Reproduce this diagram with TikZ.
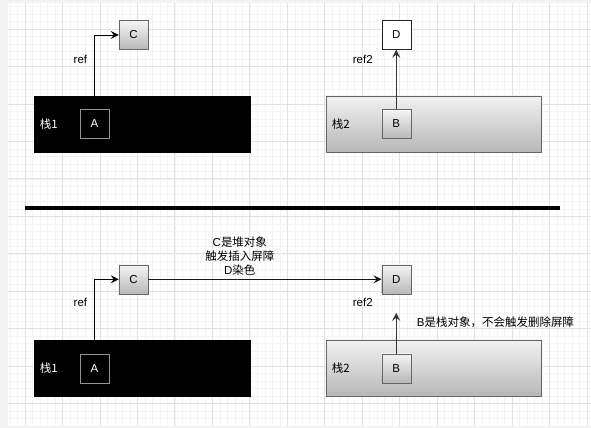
\documentclass[tikz,border=0pt]{standalone}
\usepackage{fontspec}
\setmainfont{Liberation Sans}
\newfontfamily\cjk{Noto Sans CJK SC}
\usetikzlibrary{arrows.meta,positioning}
\definecolor{gcMajor}{RGB}{226,226,226}
\definecolor{gcMinor}{RGB}{244,244,244}
\definecolor{gcMargin}{RGB}{243,243,243}
\definecolor{gcEdge}{RGB}{102,102,102}
\definecolor{gcTop}{RGB}{245,245,245}
\definecolor{gcBottom}{RGB}{184,184,184}

\begin{document}
\begin{tikzpicture}[x=1pt, y=-1pt, font=\fontsize{11.5}{14}\selectfont,
  >={Stealth[length=8pt,width=8pt,inset=3pt]},
  obj/.style={draw=gcEdge, minimum size=29pt, inner sep=0pt, top color=gcTop, bottom color=gcBottom},
  stackblack/.style={fill=black, minimum width=217pt, minimum height=57pt, inner sep=0pt},
  stackgray/.style={draw=gcEdge, top color=gcTop!95!gcBottom, bottom color=gcBottom!90!black!80,
    minimum width=216pt, minimum height=56pt, inner sep=0pt},
  link/.style={->, line width=0.9pt}]
% canvas and grid
\fill[gcMargin] (0,0) rectangle (591,428);
\fill[white] (8,3) rectangle (591,426);
\foreach \x in {10,17.5,...,590} \draw[gcMinor, line width=0.6pt] (\x,3) -- (\x,426);
\foreach \y in {6.5,14,...,426} \draw[gcMinor, line width=0.6pt] (8,\y) -- (591,\y);
\foreach \x in {25,62.5,...,590} \draw[gcMajor, line width=0.8pt] (\x,3) -- (\x,426);
\foreach \y in {29,66.5,...,426} \draw[gcMajor, line width=0.8pt] (8,\y) -- (591,\y);
\useasboundingbox (0,0) rectangle (591,428);

% before
\node[stackblack] (stackone) at (142.5,124.5) {};
\node[anchor=west, text=white, inner sep=0pt] (lblone) at ([xshift=6pt]stackone.west) {\cjk 栈1};
\node[draw=gcEdge!70!white, minimum size=29pt, inner sep=0pt, text=white] (A) at (94.5,124) {A};
\node[obj] (C) at (133.5,35) {C};
\draw[link] (stackone.north -| A) |- (C.west);
\node (ref) at (80.5,59) {ref};

\node[stackgray] (stacktwo) at (434,124) {};
\node[anchor=west, inner sep=0pt] (lbltwo) at ([xshift=6pt]stacktwo.west) {\cjk 栈2};
\node[obj] (B) at (396.5,124) {B};
\node[draw=black!85, fill=white, minimum size=29pt, inner sep=0pt] (D) at (396.5,35) {D};
\draw[link, black!80] (B) -- (D);
\node (reftwo) at (363,59) {ref2};

% divider
\draw[line width=3.5pt] (25,208) -- (560,208);

% after
\node[stackblack] (stackthree) at (142.5,368.5) {};
\node[anchor=west, text=white, inner sep=0pt] (lblthree) at ([xshift=6pt]stackthree.west) {\cjk 栈1};
\node[draw=gcEdge!70!white, minimum size=29pt, inner sep=0pt, text=white] (A2) at (94.5,368.5) {A};
\node[obj] (C2) at (133.5,279.5) {C};
\draw[link] (stackthree.north -| A2) |- (C2.west);
\node (refthree) at (80.5,303) {ref};

\node[stackgray] (stackfour) at (434,368) {};
\node[anchor=west, inner sep=0pt] (lblfour) at ([xshift=6pt]stackfour.west) {\cjk 栈2};
\node[obj] (B2) at (396.5,368.5) {B};
\node[obj] (D2) at (396.5,279.5) {D};
\draw[link, black!90] (C2) -- (D2);
\node[align=center, inner sep=0pt] (barrier) at (240,256) {C\cjk 是堆对象\\\cjk 触发插入屏障\\D\cjk 染色};
\node (reffour) at (363,303) {ref2};

\coordinate (tipfour) at (396.5,313);
\draw[link, black!80] (B2) -- (tipfour);
\node[anchor=west, inner sep=0pt] (note) at (417,322) {B\cjk 是栈对象，不会触发删除屏障};
\end{tikzpicture}
\end{document}
